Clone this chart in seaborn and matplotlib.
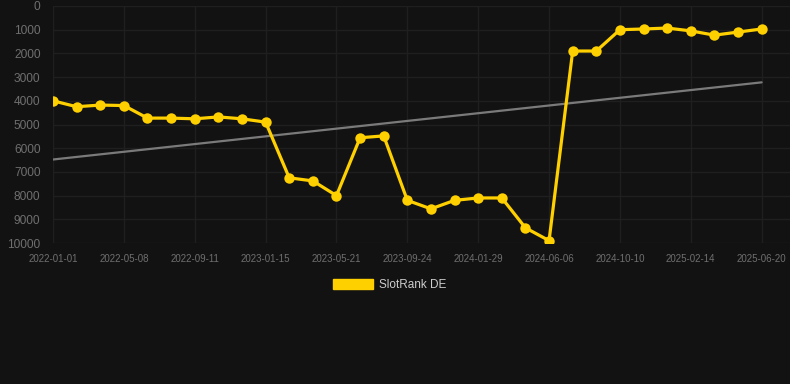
import numpy as np
import pandas as pd
import matplotlib
matplotlib.use("Agg")
import matplotlib.pyplot as plt
import seaborn as sns
from matplotlib.patches import Patch

# SlotRank DE values, one point per period (rank, lower is better)
ranks = [4000, 4250, 4180, 4200, 4730, 4730, 4760, 4680, 4760, 4900,
         7250, 7380, 8000, 5560, 5480, 8200, 8560, 8200, 8100, 8100,
         9360, 9900, 1900, 1900, 1000, 970, 930, 1050, 1230, 1100, 970]
tick_labels = ["2022-01-01", "2022-05-08", "2022-09-11", "2023-01-15",
               "2023-05-21", "2023-09-24", "2024-01-29", "2024-06-06",
               "2024-10-10", "2025-02-14", "2025-06-20"]
series_name = "SlotRank DE"

df = pd.DataFrame({"idx": np.arange(len(ranks)), "rank": ranks})

BG = "#121212"
GRID = "#1f1f1f"
YELLOW = "#FFD000"

sns.set_style("dark")
plt.rcParams["font.family"] = ["Liberation Sans", "DejaVu Sans"]

fig = plt.figure(figsize=(7.9, 3.84), dpi=100, facecolor=BG)
ax = fig.add_axes([53 / 790, 1 - 243 / 384, (790 - 53) / 790, 237 / 384])
ax.set_facecolor(BG)

sns.regplot(x="idx", y="rank", data=df, scatter=False, ci=None, truncate=True,
            color="#7a7a7a", line_kws={"lw": 1.6}, ax=ax)
sns.lineplot(x="idx", y="rank", data=df, color=YELLOW, lw=2.3, marker="o",
             markersize=7.5, markeredgewidth=0, ax=ax)

ax.set_xlim(0, 31.2)
ax.set_ylim(10000, 0)
ax.set_yticks(range(0, 10001, 1000))
ax.set_xticks(range(0, len(ranks), 3))
ax.set_xticklabels(tick_labels)
ax.set_xlabel("")
ax.set_ylabel("")
ax.grid(True, color=GRID, lw=1)
for s in ax.spines.values():
    s.set_visible(False)
ax.tick_params(axis="y", length=0, pad=9, labelsize=8.6, labelcolor="#6f6f6f")
ax.tick_params(axis="x", length=5, color=GRID, pad=3, labelsize=7, labelcolor="#6f6f6f")

fig.legend(handles=[Patch(facecolor=YELLOW, edgecolor=YELLOW, label=series_name)],
           loc="center", bbox_to_anchor=(390 / 790, 1 - 285 / 384), frameon=False,
           handlelength=3.4, handleheight=0.9, handletextpad=0.5,
           fontsize=8.5, labelcolor="#cccccc")

fig.savefig("out.png", dpi=100, facecolor=BG)
